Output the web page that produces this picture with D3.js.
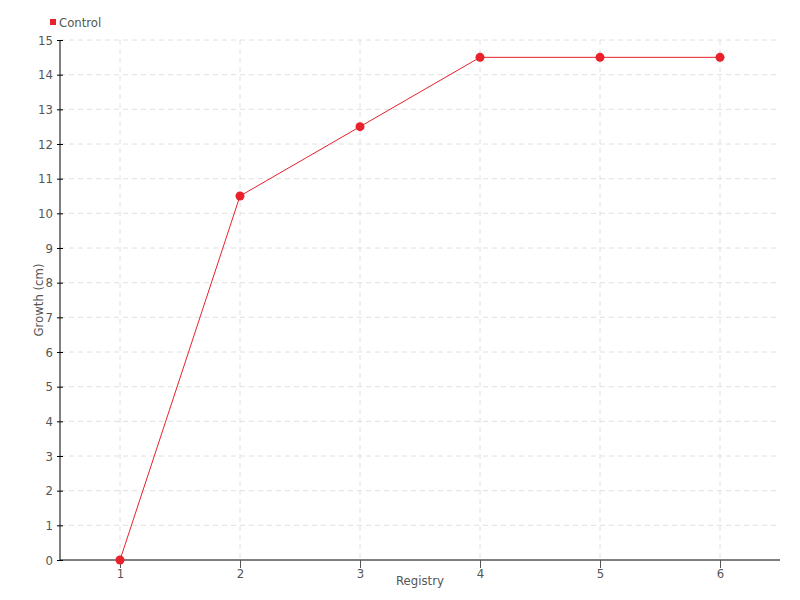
<!DOCTYPE html>
<html>
<head>
<meta charset="utf-8">
<script src="https://cdn.jsdelivr.net/npm/d3@7"></script>
<style>
  body { margin: 0; background: #fff; }
  svg text { font-family: "DejaVu Sans", sans-serif; font-stretch: condensed; fill: #555; }
</style>
</head>
<body>
<svg width="800" height="600"></svg>
<script>
// donnees du graphique
var registry = [1, 2, 3, 4, 5, 6];
var control = [0, 10.5, 12.5, 14.5, 14.5, 14.5];
var yTicks = d3.range(0, 16);
var seriesName = "Control";

var mLeft = 60, mRight = 780, mTop = 40, mBottom = 560;
var red = "#e8212b";

var svg = d3.select("svg");

var x = d3.scaleLinear().domain([0.5, 6.5]).range([mLeft, mRight]);
var y = d3.scaleLinear().domain([0, 15]).range([mBottom, mTop]);

// grille
svg.append("g").selectAll("line").data(yTicks.slice(1)).enter().append("line")
  .attr("x1", mLeft).attr("x2", mRight)
  .attr("y1", d => y(d)).attr("y2", d => y(d))
  .attr("stroke", "#e0e0e0").attr("stroke-dasharray", "5,4");
svg.append("g").selectAll("line").data(registry).enter().append("line")
  .attr("x1", d => x(d)).attr("x2", d => x(d))
  .attr("y1", mTop).attr("y2", mBottom)
  .attr("stroke", "#e0e0e0").attr("stroke-dasharray", "5,4");

// axes
var yAxis = svg.append("g").attr("transform", "translate(" + mLeft + ",0)")
  .call(d3.axisLeft(y).tickValues(yTicks).tickFormat(d3.format("d")).tickSize(3).tickPadding(4));
yAxis.selectAll(".tick line").attr("x1", -3).attr("x2", 3).attr("stroke", "#000");
yAxis.select(".domain").attr("d", "M0," + mTop + "V" + mBottom).attr("stroke", "#000");

var xAxis = svg.append("g").attr("transform", "translate(0," + mBottom + ")")
  .call(d3.axisBottom(x).tickValues(registry).tickFormat(d3.format("d")).tickSize(8).tickPadding(1));
xAxis.select(".domain").attr("d", "M" + mLeft + ",0H" + mRight).attr("stroke", "#000");
xAxis.selectAll(".tick line").attr("stroke", "#555");

svg.selectAll(".tick text").attr("font-size", null).attr("font-family", null)
  .style("font-size", "13px").attr("fill", "#555");

// titres des axes
svg.append("text").attr("x", (mLeft + mRight) / 2).attr("y", 585)
  .attr("text-anchor", "middle").style("font-size", "13px").text("Registry");
svg.append("text").attr("transform", "translate(43," + ((mTop + mBottom) / 2) + ") rotate(-90)")
  .attr("text-anchor", "middle").style("font-size", "13px").text("Growth (cm)");

// ligne et points
var line = d3.line().x((d, i) => x(registry[i])).y(d => y(d));
svg.append("path").datum(control).attr("d", line)
  .attr("fill", "none").attr("stroke", red).attr("stroke-width", 1);
svg.append("g").selectAll("circle").data(control).enter().append("circle")
  .attr("cx", (d, i) => x(registry[i])).attr("cy", d => y(d)).attr("r", 4.5)
  .attr("fill", red);

// legende
svg.append("rect").attr("x", 50).attr("y", 19).attr("width", 6).attr("height", 6).attr("fill", red);
svg.append("text").attr("x", 59).attr("y", 27).style("font-size", "13px").text(seriesName);
</script>
</body>
</html>
